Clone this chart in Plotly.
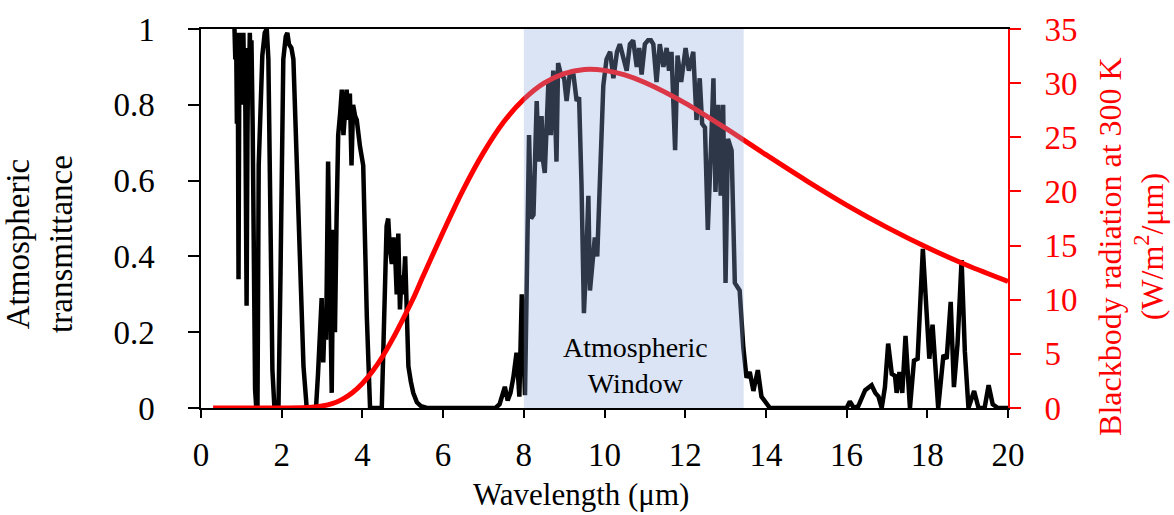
import plotly.graph_objects as go

# Atmospheric transmittance spectrum (wavelength in µm)
wl_trans = [0.83, 0.85, 0.87, 0.89, 0.91, 0.93, 0.95, 0.97, 0.99, 1.01, 1.03, 1.05, 1.07, 1.09,
            1.11, 1.13, 1.15, 1.17, 1.19, 1.21, 1.23, 1.25, 1.28, 1.31, 1.34, 1.37, 1.40, 1.43,
            1.47, 1.52, 1.58, 1.63, 1.67, 1.72, 1.77, 1.82, 1.92, 1.97, 2.00,
            2.04, 2.10, 2.14, 2.18, 2.24, 2.29, 2.33, 2.37, 2.45, 2.54, 2.62, 2.85, 2.90, 2.95,
            2.99, 3.03, 3.07, 3.10, 3.15, 3.20, 3.24, 3.28, 3.32, 3.36, 3.40, 3.45, 3.49, 3.53,
            3.57, 3.61, 3.65, 3.69, 3.73, 3.77, 3.82, 3.86, 3.94, 4.02, 4.11, 4.19, 4.48, 4.52,
            4.56, 4.60, 4.64, 4.68, 4.73, 4.77, 4.81, 4.85, 4.89, 4.93, 4.97, 5.01, 5.06, 5.10,
            5.14, 5.20, 5.26, 5.35, 5.45, 5.60, 7.30, 7.40, 7.47, 7.53, 7.60, 7.67, 7.74, 7.82,
            7.89, 7.95, 8.03, 8.10, 8.13, 8.18, 8.24, 8.32, 8.37, 8.44, 8.48, 8.52, 8.56, 8.61,
            8.67, 8.73, 8.77, 8.81, 8.85, 8.92, 9.00, 9.06, 9.15, 9.23, 9.31, 9.37, 9.43, 9.49,
            9.54, 9.60, 9.64, 9.70, 9.76, 9.82, 9.88, 9.97, 10.05, 10.14, 10.22, 10.31, 10.38,
            10.47, 10.55, 10.63, 10.71, 10.80, 10.86, 10.92, 11.00, 11.08, 11.15, 11.21, 11.29,
            11.37, 11.46, 11.54, 11.60, 11.66, 11.75, 11.81, 11.90, 12.01, 12.09, 12.20, 12.28,
            12.36, 12.42, 12.49, 12.56, 12.64, 12.70, 12.75, 12.82, 12.88, 12.94, 13.00, 13.06,
            13.15, 13.23, 13.35, 13.44, 13.52, 13.60, 13.69, 13.80, 13.89, 13.97, 14.10, 16.00,
            16.08, 16.18, 16.29, 16.46, 16.62, 16.71, 16.79, 16.87, 16.95, 17.03, 17.12, 17.20,
            17.24, 17.31, 17.38, 17.46, 17.57, 17.67, 17.76, 17.89, 18.00, 18.05, 18.13, 18.19,
            18.27, 18.40, 18.48, 18.58, 18.66, 18.75, 18.85, 18.93, 19.02, 19.16, 19.27, 19.42,
            19.52, 19.62, 19.75, 20.00]
transmittance = [1.00, 0.92, 0.99, 0.75, 0.97, 0.34, 0.90, 0.99, 0.80, 0.98, 0.90, 0.99, 0.85, 0.95,
                 0.60, 0.27, 0.70, 0.95, 0.85, 0.99, 0.90, 0.97, 0.75, 0.35, 0.05, 0.00, 0.00, 0.64,
                 0.80, 0.93, 0.99, 1.00, 0.92, 0.55, 0.10, 0.00, 0.00, 0.35, 0.63,
                 0.92, 0.98, 0.99, 0.96, 0.95, 0.92, 0.80, 0.67, 0.41, 0.11, 0.00, 0.00, 0.09, 0.20,
                 0.29, 0.12, 0.25, 0.18, 0.65, 0.30, 0.04, 0.47, 0.20, 0.50, 0.72, 0.78, 0.84, 0.72,
                 0.80, 0.84, 0.76, 0.83, 0.64, 0.80, 0.77, 0.76, 0.69, 0.64, 0.24, 0.00, 0.00, 0.20,
                 0.41, 0.48, 0.50, 0.42, 0.38, 0.45, 0.41, 0.30, 0.46, 0.26, 0.35, 0.30, 0.40, 0.20,
                 0.11, 0.07, 0.04, 0.015, 0.005, 0.00, 0.00, 0.01, 0.04, 0.056, 0.02, 0.04, 0.08, 0.146,
                 0.03, 0.30, 0.034, 0.50, 0.72, 0.50, 0.51, 0.81, 0.65, 0.77, 0.65, 0.62, 0.76, 0.86,
                 0.72, 0.89, 0.80, 0.65, 0.91, 0.88, 0.87, 0.81, 0.89, 0.88, 0.81, 0.82, 0.59, 0.25,
                 0.37, 0.56, 0.31, 0.40, 0.45, 0.40, 0.59, 0.85, 0.92, 0.94, 0.87, 0.94, 0.96,
                 0.92, 0.89, 0.96, 0.97, 0.90, 0.95, 0.88, 0.96, 0.97, 0.97, 0.96, 0.86,
                 0.96, 0.90, 0.95, 0.89, 0.94, 0.68, 0.93, 0.86, 0.95, 0.89, 0.94, 0.76,
                 0.87, 0.75, 0.74, 0.47, 0.69, 0.87, 0.57, 0.80, 0.56, 0.80, 0.33, 0.71,
                 0.68, 0.33, 0.31, 0.16, 0.08, 0.095, 0.045, 0.10, 0.03, 0.02, 0.00, 0.00,
                 0.017, 0.00, 0.005, 0.047, 0.06, 0.04, 0.03, 0.00, 0.055, 0.17, 0.09, 0.085,
                 0.04, 0.095, 0.04, 0.19, 0.00, 0.125, 0.13, 0.42, 0.22, 0.13, 0.22, 0.12,
                 0.00, 0.14, 0.13, 0.28, 0.055, 0.17, 0.39, 0.15, 0.00, 0.045, 0.00, 0.00,
                 0.06, 0.01, 0.00, 0.00]

# Spectral exitance of a 300 K blackbody (W/m^2/µm)
wl_bb = [0.3, 1.0, 1.5, 2.0, 2.5, 2.75, 3.0, 3.25, 3.5, 3.75, 4.0, 4.25, 4.5, 4.75, 5.0, 5.25,
         5.5, 6.0, 6.5, 7.0, 7.5, 8.0, 8.5, 9.0, 9.5, 10.0, 10.5, 11.0, 12.0, 13.0, 14.0,
         15.0, 16.0, 17.0, 18.0, 19.0, 20.0]
blackbody = [0.0, 0.0, 0.0, 0.0, 0.02, 0.06, 0.18, 0.40, 0.80, 1.41, 2.27, 3.39, 4.76, 6.38, 8.17,
             10.04, 12.14, 16.26, 20.17, 23.58, 26.41, 28.51, 30.0, 30.88, 31.26, 31.18, 30.76,
             30.06, 28.16, 25.84, 23.39, 21.0, 18.74, 16.68, 14.82, 13.16, 11.69]

x_ticks = list(range(0, 21, 2))
y_ticks = [0, 0.2, 0.4, 0.6, 0.8, 1]
y_tick_text = ["0", "0.2", "0.4", "0.6", "0.8", "1"]
y2_ticks = list(range(0, 36, 5))

window_start, window_end = 8.0, 13.45

SERIF = "Liberation Serif, Times New Roman, serif"
RED = "#ff0000"

fig = go.Figure()
fig.add_trace(go.Scatter(x=wl_trans, y=transmittance, mode="lines",
                         line=dict(color="black", width=4.5), yaxis="y",
                         name="Atmospheric transmittance"))
fig.add_trace(go.Scatter(x=wl_bb, y=blackbody, mode="lines",
                         line=dict(color=RED, width=5, shape="spline", smoothing=0.8),
                         yaxis="y2", name="Blackbody radiation"))

# Shaded atmospheric window band
fig.add_shape(type="rect", xref="x", yref="y", x0=window_start, x1=window_end,
              y0=-0.013, y1=1, fillcolor="rgba(143,170,220,0.32)",
              line=dict(width=0), layer="above")

fig.add_annotation(x=10.78, y=0.112, xref="x", yref="y", text="Atmospheric<br>Window",
                   showarrow=False, font=dict(family=SERIF, size=28, color="black"))

# Axis titles
fig.add_annotation(x=0, y=0.433, xref="paper", yref="paper", xshift=-161,
                   xanchor="center", yanchor="middle",
                   text="Atmospheric<br>transmittance", textangle=-90, showarrow=False,
                   font=dict(family=SERIF, size=33, color="black"))
fig.add_annotation(x=1, y=0.425, xref="paper", yref="paper", xshift=123,
                   xanchor="center", yanchor="middle",
                   text="Blackbody radiation at 300 K<br>(W/m<sup>2</sup>/μm)", textangle=-90,
                   showarrow=False, font=dict(family=SERIF, size=32, color=RED))
fig.add_annotation(x=0.471, y=-0.227, xref="paper", yref="paper",
                   xanchor="center", yanchor="middle",
                   text="Wavelength (μm)", showarrow=False,
                   font=dict(family=SERIF, size=31, color="black"))

fig.update_layout(
    width=1174, height=515,
    margin=dict(l=201, r=166, t=22, b=107),
    paper_bgcolor="white", plot_bgcolor="white",
    showlegend=False,
    xaxis=dict(range=[0, 20], tickvals=x_ticks, showgrid=False, zeroline=False,
               showline=True, linecolor="black", linewidth=1.5, mirror=True,
               ticks="outside", ticklen=8, tickwidth=1.5, tickcolor="black",
               ticklabelstandoff=9,
               tickfont=dict(family=SERIF, size=33, color="black")),
    yaxis=dict(range=[0, 1], tickvals=y_ticks, ticktext=y_tick_text, showgrid=False,
               zeroline=False, showline=True, linecolor="black", linewidth=1.5,
               ticks="outside", ticklen=11, tickwidth=1.5, tickcolor="black",
               ticklabelstandoff=27,
               tickfont=dict(family=SERIF, size=33, color="black")),
    yaxis2=dict(range=[0, 35], tickvals=y2_ticks, overlaying="y", side="right",
                showgrid=False, zeroline=False, showline=True, linecolor=RED, linewidth=2,
                ticks="outside", ticklen=11, tickwidth=1.5, tickcolor=RED,
                ticklabelstandoff=17,
                tickfont=dict(family=SERIF, size=33, color=RED)),
)

fig.write_html("out.html")
